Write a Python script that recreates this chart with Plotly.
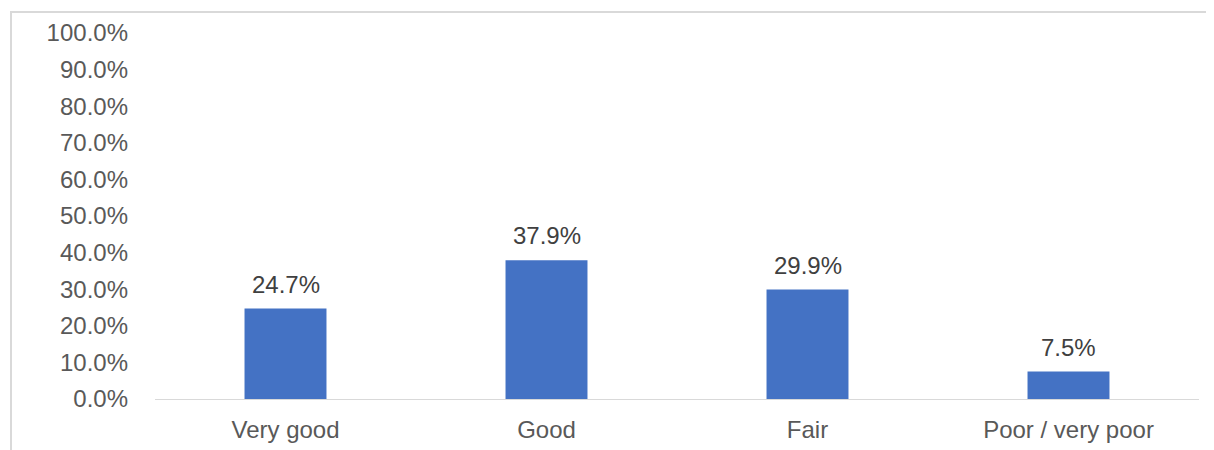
import plotly.graph_objects as go

categories = ["Very good", "Good", "Fair", "Poor / very poor"]
values = [24.7, 37.9, 29.9, 7.5]
labels = ["24.7%", "37.9%", "29.9%", "7.5%"]
tick_vals = [0, 10, 20, 30, 40, 50, 60, 70, 80, 90, 100]
tick_text = ["0.0%", "10.0%", "20.0%", "30.0%", "40.0%", "50.0%", "60.0%", "70.0%", "80.0%", "90.0%", "100.0%"]

W, H = 1214, 450
off = 8  # page body margin
ml, mr, mt, mb = 155 - off, 15 + off, 33 - off, 51 + off
pw, ph = W - ml - mr, H - mt - mb
FONT = "Liberation Sans, Arial"
FS = 24

fig = go.Figure(go.Bar(
    x=categories, y=values,
    marker=dict(color="#4472C4", line=dict(width=0)),
    width=0.314, cliponaxis=False,
))

for c, v, t in zip(categories, values, labels):
    fig.add_annotation(x=c, y=v, text=t, showarrow=False, yanchor="bottom",
                       yshift=9, font=dict(family=FONT, size=FS, color="#404040"))

fig.update_layout(
    width=W, height=H,
    margin=dict(l=ml, r=mr, t=mt, b=mb),
    paper_bgcolor="white", plot_bgcolor="white",
    font=dict(family=FONT, size=FS, color="#595959"),
    showlegend=False,
    bargap=0.686,
    xaxis=dict(showgrid=False, showline=True, linecolor="#d9d9d9", linewidth=1,
               ticks="", ticklabelstandoff=9, tickfont=dict(size=FS, color="#595959")),
    yaxis=dict(range=[0, 100], tickvals=tick_vals, ticktext=tick_text,
               showgrid=False, showline=False, zeroline=False, ticks="",
               ticklabelstandoff=26, tickfont=dict(size=FS, color="#595959")),
    shapes=[dict(type="rect", xref="paper", yref="paper",
                 x0=(11 - off - ml) / pw, x1=(W + 20 - ml) / pw,
                 y0=-(H + 20 - mt - ph) / ph, y1=1 + (mt - (12 - off)) / ph,
                 line=dict(color="#d9d9d9", width=2), fillcolor="rgba(0,0,0,0)",
                 layer="below")],
)

fig.write_html("out.html")
